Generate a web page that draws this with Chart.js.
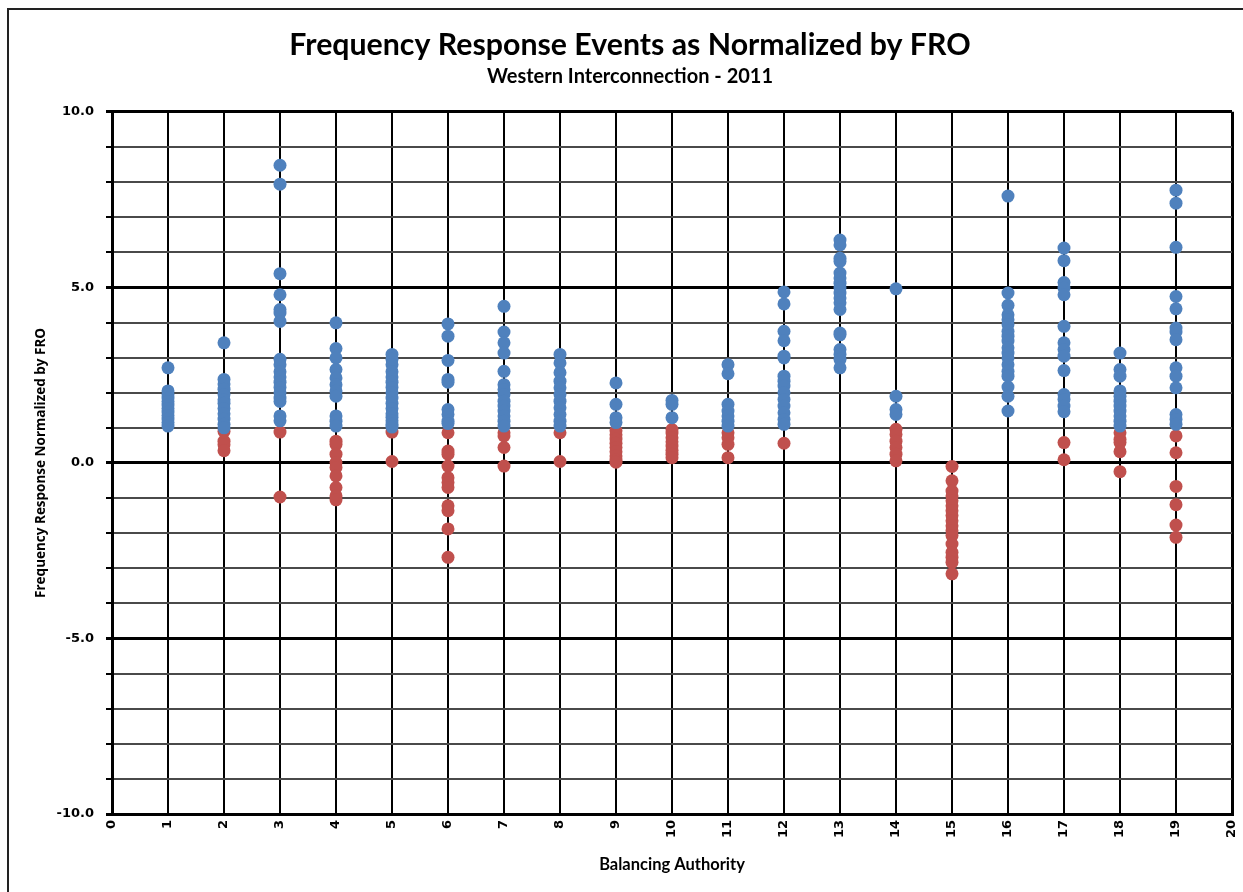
<!DOCTYPE html>
<html>
<head>
<meta charset="utf-8">
<script src="https://cdn.jsdelivr.net/npm/chart.js@4/dist/chart.umd.min.js"></script>
<style>
  html, body { margin: 0; padding: 0; background: #fff; }
  #wrap { width: 1243px; height: 892px; }
</style>
</head>
<body>
<div id="wrap"><canvas id="froChart" width="1243" height="892"></canvas></div>
<script>
// Balancing authorities on the x axis
const authorities = [1, 2, 3, 4, 5, 6, 7, 8, 9, 10, 11, 12, 13, 14, 15, 16, 17, 18, 19];

// Events at or above 1.0 (blue), one list per authority
const blueValues = [
    [2.71, 2.05, 1.95, 1.85, 1.75, 1.65, 1.55, 1.45, 1.35, 1.25, 1.15, 1.05],
    [3.42, 2.38, 2.25, 2.1, 1.95, 1.8, 1.7, 1.55, 1.4, 1.25, 1.1, 1.0],
    [8.48, 7.94, 5.39, 4.79, 4.37, 4.27, 4.03, 2.95, 2.8, 2.6, 2.45, 2.3, 2.15, 2.0, 1.85, 1.75, 1.34, 1.2],
    [3.99, 3.26, 2.99, 2.66, 2.42, 2.23, 2.05, 1.9, 1.34, 1.19, 1.05],
    [3.09, 2.95, 2.8, 2.6, 2.45, 2.3, 2.15, 2.0, 1.85, 1.7, 1.55, 1.4, 1.3, 1.2, 1.1, 1.02],
    [3.96, 3.61, 2.92, 2.38, 2.3, 1.52, 1.38, 1.19, 1.12],
    [4.46, 3.73, 3.42, 3.13, 2.61, 2.23, 2.09, 1.95, 1.76, 1.62, 1.48, 1.34, 1.19, 1.05],
    [3.09, 2.85, 2.57, 2.33, 2.14, 1.95, 1.76, 1.57, 1.38, 1.19, 1.05],
    [2.28, 1.67, 1.29, 1.15],
    [1.78, 1.67, 1.29],
    [2.8, 2.54, 1.67, 1.48, 1.34, 1.19, 1.05],
    [4.87, 4.53, 3.75, 3.48, 3.04, 2.99, 2.47, 2.33, 2.19, 2.0, 1.81, 1.62, 1.43, 1.24, 1.1],
    [6.35, 6.21, 5.83, 5.74, 5.41, 5.27, 5.12, 4.98, 4.84, 4.7, 4.56, 4.37, 3.7, 3.65, 3.23, 3.09, 2.95, 2.71],
    [4.96, 1.9, 1.52, 1.38],
    [],
    [7.6, 4.84, 4.49, 4.22, 4.08, 3.94, 3.75, 3.61, 3.47, 3.28, 3.13, 2.99, 2.8, 2.61, 2.47, 2.16, 1.9, 1.48],
    [6.12, 5.76, 5.14, 4.98, 4.79, 3.89, 3.42, 3.23, 3.04, 2.63, 1.95, 1.81, 1.62, 1.46],
    [3.13, 2.66, 2.47, 2.05, 1.9, 1.76, 1.62, 1.48, 1.34, 1.19, 1.05],
    [7.77, 7.4, 6.14, 4.74, 4.39, 3.84, 3.73, 3.51, 2.71, 2.47, 2.14, 1.38, 1.24, 1.1]
];

// Events below 1.0 (red), one list per authority
const redValues = [
    [],
    [0.9, 0.62, 0.52, 0.35],
    [0.88, -0.97],
    [0.62, 0.53, 0.25, 0.01, -0.13, -0.37, -0.7, -0.94, -1.05],
    [0.88, 0.04],
    [0.86, 0.34, 0.25, -0.09, -0.42, -0.56, -0.7, -1.22, -1.36, -1.88, -2.69],
    [0.86, 0.77, 0.44, -0.09],
    [0.86, 0.04],
    [0.92, 0.8, 0.68, 0.56, 0.44, 0.32, 0.2, 0.08, 0.02],
    [0.95, 0.85, 0.72, 0.6, 0.48, 0.36, 0.25, 0.15],
    [0.86, 0.72, 0.53, 0.15],
    [0.56],
    [],
    [0.96, 0.81, 0.62, 0.44, 0.25, 0.06],
    [-0.1, -0.51, -0.8, -0.94, -1.08, -1.22, -1.36, -1.5, -1.65, -1.79, -1.93, -2.07, -2.31, -2.55, -2.69, -2.83, -3.16],
    [],
    [0.58, 0.09],
    [0.86, 0.67, 0.58, 0.32, -0.25],
    [0.77, 0.29, -0.67, -1.19, -1.77, -2.12]
];

const yTickLabels = { '-10': '-10.0', '-5': '-5.0', '0': '0.0', '5': '5.0', '10': '10.0' };

function toPoints(lists) {
    const pts = [];
    lists.forEach((vals, i) => {
        vals.forEach(v => pts.push({ x: authorities[i], y: v }));
    });
    return pts;
}

// frame line on the left and top of the picture
const framePlugin = {
    id: 'frame',
    beforeDraw(chart) {
        const ctx = chart.ctx;
        ctx.save();
        ctx.strokeStyle = '#222';
        ctx.lineWidth = 2;
        ctx.beginPath();
        ctx.moveTo(8, 892);
        ctx.lineTo(8, 9);
        ctx.lineTo(1243, 9);
        ctx.stroke();
        ctx.restore();
    }
};

function renderFroChart() {
    const ctx = document.getElementById('froChart').getContext('2d');
    new Chart(ctx, {
        type: 'scatter',
        data: {
            datasets: [{
                label: 'At or above 1.0',
                data: toPoints(blueValues),
                backgroundColor: '#4F81BD',
                borderColor: '#4F81BD',
                pointRadius: 6.5,
                pointHoverRadius: 6.5,
                borderWidth: 0
            }, {
                label: 'Below 1.0',
                data: toPoints(redValues),
                backgroundColor: '#C0504D',
                borderColor: '#C0504D',
                pointRadius: 6.5,
                pointHoverRadius: 6.5,
                borderWidth: 0
            }]
        },
        options: {
            responsive: false,
            animation: false,
            layout: { padding: { left: 28, right: 11, top: 0, bottom: 0 } },
            plugins: {
                legend: { display: false },
                tooltip: { enabled: false },
                title: {
                    display: true,
                    text: 'Frequency Response Events as Normalized by FRO',
                    color: '#000',
                    font: { family: 'Lato', size: 30.3, weight: 'bold' },
                    padding: { top: 27, bottom: 0 }
                },
                subtitle: {
                    display: true,
                    text: 'Western Interconnection - 2011',
                    color: '#000',
                    font: { family: 'Lato', size: 20, weight: 'bold' },
                    padding: { top: 1.5, bottom: 23 }
                }
            },
            scales: {
                x: {
                    type: 'linear',
                    min: 0,
                    max: 20,
                    afterFit(scale) {
                        scale.height = 78;
                        scale.paddingLeft = 0;
                        scale.paddingRight = 0;
                    },
                    ticks: {
                        stepSize: 1,
                        autoSkip: false,
                        minRotation: 90,
                        maxRotation: 90,
                        padding: 6,
                        color: '#000',
                        font: { family: 'DejaVu Sans', size: 13, weight: 'bold' }
                    },
                    grid: {
                        color: '#000',
                        lineWidth: c => (c.tick && (c.tick.value === 0 || c.tick.value === 20)) ? 3 : 2,
                        drawTicks: false
                    },
                    border: { color: '#000', width: 3 },
                    title: {
                        display: true,
                        text: 'Balancing Authority',
                        color: '#000',
                        font: { family: 'Lato', size: 16.5, weight: 'bold' },
                        padding: { top: 0, bottom: 17.2 }
                    }
                },
                y: {
                    min: -10,
                    max: 10,
                    afterFit(scale) { scale.width = 84; },
                    ticks: {
                        stepSize: 1,
                        autoSkip: false,
                        padding: 12,
                        color: '#000',
                        font: { family: 'DejaVu Sans', size: 13, weight: 'bold' },
                        callback: v => yTickLabels[String(v)] || ''
                    },
                    grid: {
                        color: c => (c.tick && c.tick.value % 5 === 0) ? '#000' : '#4a4a4a',
                        lineWidth: c => (c.tick && c.tick.value % 5 === 0) ? 3 : 2,
                        tickLength: 6,
                        tickColor: '#000',
                        tickWidth: c => (c.tick && c.tick.value % 5 === 0) ? 3 : 2
                    },
                    border: { color: '#000', width: 3 },
                    title: {
                        display: true,
                        text: 'Frequency Response Normalized by FRO',
                        color: '#000',
                        font: { family: 'Open Sans', size: 13.5, weight: 'bold' },
                        padding: { top: 5.5, bottom: 0 }
                    }
                }
            }
        },
        plugins: [framePlugin]
    });
}

document.addEventListener('DOMContentLoaded', () => {
    renderFroChart();
});
</script>
</body>
</html>
